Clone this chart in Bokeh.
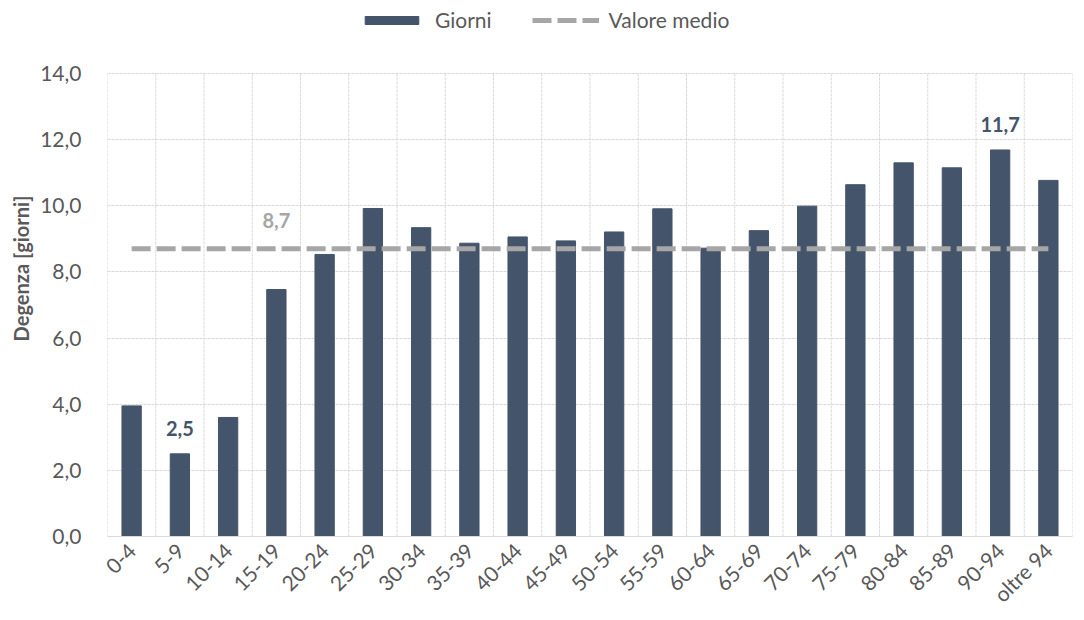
import math
from bokeh.plotting import figure
from bokeh.models import (Range1d, FixedTicker, CustomJSTickFormatter, Legend, LegendItem,
                          ColumnDataSource)
from bokeh.core.properties import value
from bokeh.embed import file_html
from bokeh.resources import INLINE

# ---- data ----
categories = ["0-4", "5-9", "10-14", "15-19", "20-24", "25-29", "30-34", "35-39",
              "40-44", "45-49", "50-54", "55-59", "60-64", "65-69", "70-74", "75-79",
              "80-84", "85-89", "90-94", "oltre 94"]
giorni = [3.95, 2.50, 3.60, 7.47, 8.53, 9.92, 9.34, 8.87, 9.06, 8.94, 9.21, 9.91,
          8.72, 9.25, 9.99, 10.64, 11.30, 11.15, 11.69, 10.77]
valore_medio = 8.7
bar_label_idx = [1, 18]
bar_label_text = ["2,5", "11,7"]
mean_label_idx = 3
mean_label_text = "8,7"
y_ticks = [0, 2, 4, 6, 8, 10, 12, 14]

FONT = "Lato"
BAR = "#44546A"
MEAN = "#A6A6A6"
TXT = "#595959"
GRID = "#D9D9D9"

xs = list(range(len(categories)))

# frame extends above the 14,0 line so that the legend sits inside it
p = figure(width=1076, height=620, output_backend="svg", toolbar_location=None,
           x_range=Range1d(-0.5, len(categories) - 0.5), y_range=Range1d(0, 16.21),
           min_border_left=107, min_border_right=4, min_border_top=0, min_border_bottom=84)
p.outline_line_color = None
p.background_fill_color = "white"
p.border_fill_color = "white"

# vertical grid lines between categories, limited to the value axis extent
bounds = [i - 0.5 for i in xs] + [xs[-1] + 0.5]
p.segment(x0=bounds, y0=[y_ticks[0]] * len(bounds), x1=bounds, y1=[y_ticks[-1]] * len(bounds),
          line_color=GRID, line_width=1, line_dash="3 1")

src = ColumnDataSource(dict(x=xs, y=giorni))
bars = p.vbar(x="x", top="y", width=0.4, source=src, fill_color=BAR, line_color=BAR)

mean_line = p.line(x=[xs[0], xs[-1]], y=[valore_medio, valore_medio], line_color=MEAN,
                   line_width=5, line_dash="19 6")

# labels
p.text(x=[xs[i] for i in bar_label_idx], y=[giorni[i] for i in bar_label_idx],
       text=bar_label_text, text_font=value(FONT), text_font_style="bold",
       text_font_size="20px", text_color=BAR, text_align="center",
       text_baseline="bottom", y_offset=-18)
p.text(x=[xs[mean_label_idx]], y=[valore_medio], text=[mean_label_text],
       text_font=value(FONT), text_font_style="bold", text_font_size="20px",
       text_color=MEAN, text_align="center", text_baseline="bottom", y_offset=-21)

# axes
p.yaxis.ticker = FixedTicker(ticks=y_ticks)
p.yaxis.formatter = CustomJSTickFormatter(code="return tick.toFixed(1).replace('.', ',');")
p.yaxis.axis_label = "Degenza [giorni]"
p.yaxis.axis_label_text_font = FONT
p.yaxis.axis_label_text_font_style = "bold"
p.yaxis.axis_label_text_font_size = "20px"
p.yaxis.axis_label_text_color = TXT
p.yaxis.axis_label_standoff = 4
p.yaxis.major_label_text_font = FONT
p.yaxis.major_label_text_font_size = "21px"
p.yaxis.major_label_text_color = TXT
p.yaxis.major_label_standoff = 20
p.yaxis.major_tick_line_color = None
p.yaxis.minor_tick_line_color = None
p.yaxis.axis_line_color = None

p.xaxis.ticker = FixedTicker(ticks=xs)
p.xaxis.major_label_overrides = {i: c for i, c in zip(xs, categories)}
p.xaxis.major_label_orientation = math.pi / 4
p.xaxis.major_label_text_font = FONT
p.xaxis.major_label_text_font_size = "21px"
p.xaxis.major_label_text_color = TXT
p.xaxis.major_label_standoff = 4
p.xaxis.major_tick_line_color = None
p.xaxis.minor_tick_line_color = None
p.xaxis.axis_line_color = GRID

# grids
p.ygrid.ticker = FixedTicker(ticks=y_ticks)
p.ygrid.grid_line_color = GRID
p.ygrid.grid_line_dash = "3 1"
p.xgrid.visible = False

legend = Legend(items=[LegendItem(label="Giorni", renderers=[bars]),
                       LegendItem(label="Valore medio", renderers=[mean_line])],
                orientation="horizontal", location=(251, 504),
                label_text_font=FONT, label_text_font_size="21px", label_text_color=TXT,
                glyph_width=67, glyph_height=10, spacing=40, padding=0, margin=0,
                border_line_color=None, background_fill_alpha=0, label_standoff=10)
p.add_layout(legend, "center")

open("out.html", "w").write(file_html(p, INLINE))
